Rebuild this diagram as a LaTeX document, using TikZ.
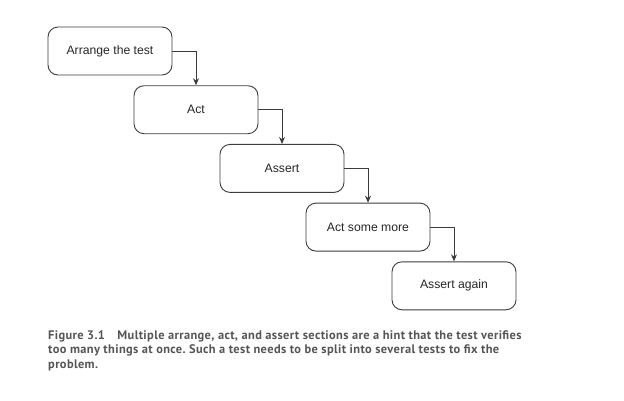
\documentclass[tikz,border=0pt]{standalone}
\usepackage{fontspec}
\setmainfont{Liberation Sans}
\newfontfamily\captionfont[LetterSpace=3]{PT Sans}
\usepackage{tikz}
\usetikzlibrary{arrows.meta}
\usetikzlibrary{positioning}
\definecolor{boxline}{RGB}{60,60,60}
\definecolor{captiongray}{RGB}{85,85,85}
\frenchspacing
\tikzset{stepbox/.style={draw=boxline,
                         line width=0.9pt,
                         rounded corners=10pt,
                         minimum width=124pt,
                         minimum height=48pt,
                         font=\fontsize{12.2}{14}\selectfont,
                         text=black!85}}
\tikzset{flow/.style={draw=boxline,
                      line width=0.9pt,
                      -{Stealth[length=7pt,width=6pt]}}}
\begin{document}
\begin{tikzpicture}
      [
      x=1pt,y=-1pt,
      ]

      \useasboundingbox (0,0) rectangle (624,400);

      % steps
      \foreach \i/\t [evaluate=\i as \x using 24+86*\i,
                      evaluate=\i as \y using 51+58.7*(\i-1)] in
      {
      1/Arrange the test,
      2/Act,
      3/Assert,
      4/Act some more,
      5/Assert again
      }
      {
      \node [stepbox] (S\i) at (\x,\y) {\t};
      }

      % connectors
      \foreach \i [evaluate=\i as \j using int(\i+1)] in {1,...,4}
      {
      \draw [flow] (S\i.east) -| (S\j.north);
      }

      % caption
      \node [anchor=north west,align=left,inner sep=0pt,
      font=\captionfont\bfseries\fontsize{12.4}{14.7}\selectfont,text=captiongray]
      (caption) at (48,330)
      {Figure 3.1\hspace{1em}Multiple arrange, act, and assert sections are a hint that the test verifies\\
      too many things at once. Such a test needs to be split into several tests to fix the\\
      problem.};

    \end{tikzpicture}
\end{document}
